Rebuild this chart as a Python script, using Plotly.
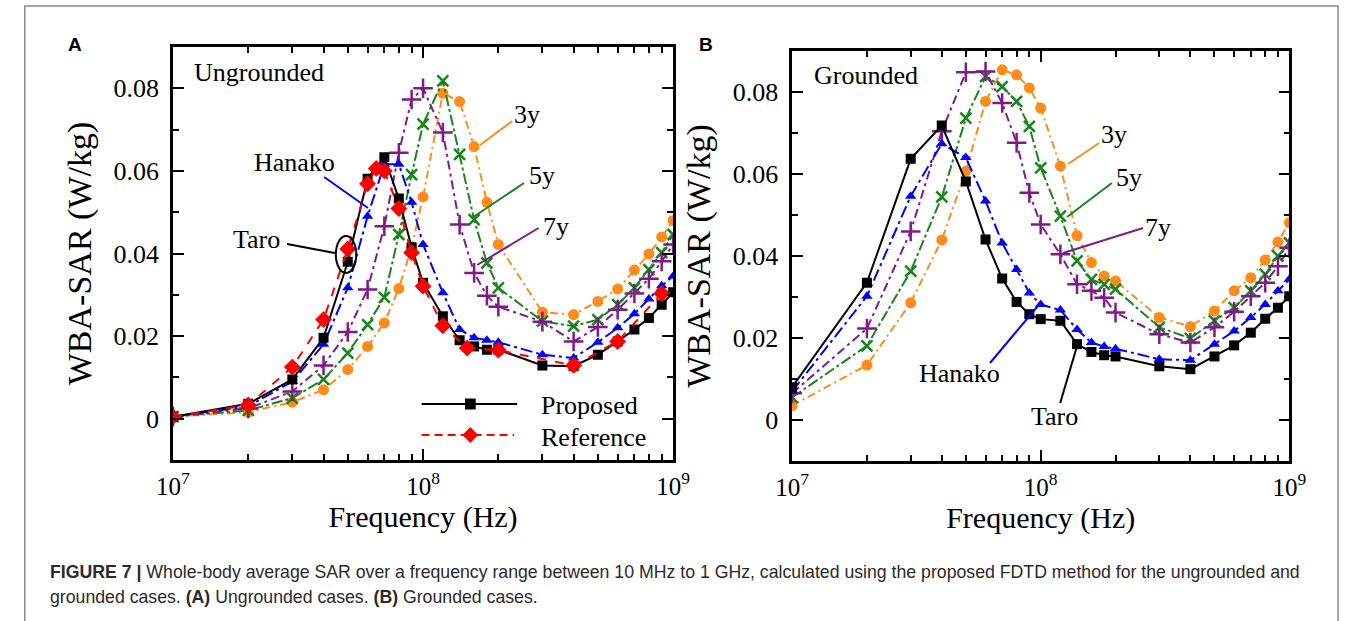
import plotly.graph_objects as go

# ---------------- data ----------------
freq_mhz = [10, 20, 30, 40, 50, 60, 70, 80, 90, 100, 120, 140, 160, 180, 200,
            300, 400, 500, 600, 700, 800, 900, 1000]
ref_freq_mhz = [10, 20, 30, 40, 50, 60, 65, 70, 80, 90, 100, 120, 150, 200, 400, 600, 900]

# (A) Ungrounded
ung_taro = [0.0005, 0.0036, 0.0095, 0.0196, 0.038, 0.0581, 0.0633, 0.0533, 0.0415, 0.0329,
            0.0248, 0.019, 0.0175, 0.0167, 0.0167, 0.0129, 0.0127, 0.0155, 0.0187, 0.0216,
            0.0244, 0.0276, 0.0306]
ung_taro_ref = [0.0005, 0.0033, 0.0125, 0.024, 0.0411, 0.0569, 0.0606, 0.060, 0.0509, 0.0402,
                0.0321, 0.0225, 0.0171, 0.0166, 0.0129, 0.0187, 0.0303]
ung_hanako = [0.0005, 0.003, 0.009, 0.018, 0.0317, 0.049, 0.0616, 0.0616, 0.0524, 0.0422,
              0.0305, 0.0216, 0.0196, 0.019, 0.0185, 0.0155, 0.0147, 0.0185, 0.022, 0.0254,
              0.029, 0.0322, 0.0345]
ung_7y = [0.0005, 0.0025, 0.0066, 0.0129, 0.021, 0.0313, 0.0466, 0.0644, 0.0773, 0.080,
          0.0693, 0.047, 0.0353, 0.0298, 0.0271, 0.0235, 0.0187, 0.0222, 0.0264, 0.0303,
          0.0339, 0.0381, 0.0422]
ung_5y = [0.0005, 0.002, 0.005, 0.0095, 0.0159, 0.0228, 0.0294, 0.0446, 0.0591, 0.0713,
          0.0818, 0.064, 0.0482, 0.0377, 0.0317, 0.0236, 0.0224, 0.024, 0.0276, 0.0317,
          0.0361, 0.0402, 0.0446]
ung_3y = [0.0005, 0.0016, 0.004, 0.007, 0.0119, 0.0175, 0.0232, 0.0315, 0.0415, 0.0537,
          0.0788, 0.0768, 0.0659, 0.0524, 0.0422, 0.0258, 0.0252, 0.0284, 0.0314, 0.036,
          0.0399, 0.044, 0.048]

# (B) Grounded
gr_taro = [0.008, 0.0335, 0.0637, 0.0718, 0.0582, 0.044, 0.0345, 0.0288, 0.0258, 0.0246,
           0.0242, 0.0185, 0.0166, 0.0158, 0.0155, 0.0131, 0.0124, 0.0155, 0.0182, 0.0213,
           0.0247, 0.0274, 0.0302]
gr_hanako = [0.007, 0.0302, 0.0546, 0.0674, 0.064, 0.0534, 0.0432, 0.0367, 0.031, 0.0282,
             0.0268, 0.0221, 0.0189, 0.0179, 0.0174, 0.0148, 0.0146, 0.0185, 0.0217, 0.025,
             0.0282, 0.0315, 0.0343]
gr_7y = [0.0065, 0.0223, 0.046, 0.0704, 0.0848, 0.085, 0.0773, 0.0676, 0.0554, 0.0477,
         0.0404, 0.0331, 0.0315, 0.0298, 0.0262, 0.0209, 0.0189, 0.0226, 0.0264, 0.0302,
         0.0335, 0.0375, 0.042]
gr_5y = [0.0055, 0.0181, 0.0363, 0.0544, 0.0736, 0.0838, 0.0813, 0.0777, 0.0716, 0.0615,
         0.0497, 0.0388, 0.0343, 0.0331, 0.0319, 0.0226, 0.0199, 0.0242, 0.0274, 0.0315,
         0.0355, 0.04, 0.0432]
gr_3y = [0.0035, 0.0134, 0.0286, 0.0439, 0.0607, 0.0777, 0.0854, 0.0842, 0.081, 0.0761,
         0.0619, 0.045, 0.0384, 0.0351, 0.0339, 0.025, 0.0228, 0.0266, 0.0315, 0.0347,
         0.039, 0.0434, 0.0481]

x_tick_vals = [1e7, 1e8, 1e9]
x_tick_text = ["10<sup>7</sup>", "10<sup>8</sup>", "10<sup>9</sup>"]
x_minor_vals = [m * 10 ** e for e in (7, 8) for m in range(2, 10)]
y_tick_vals = [0, 0.02, 0.04, 0.06, 0.08]
y_tick_text = ["0", "0.02", "0.04", "0.06", "0.08"]

# ---------------- styling ----------------
W, H = 1357, 621
SERIF = "Liberation Serif"
C_BLACK, C_RED, C_BLUE = "#000000", "#FF0000", "#0000FF"
C_PURPLE, C_GREEN, C_ORANGE = "#80198C", "#17861A", "#FF8C1A"


def px(x):
    return x / W


def py(y):
    return 1 - y / H


freq = [f * 1e6 for f in freq_mhz]
ref_freq = [f * 1e6 for f in ref_freq_mhz]

fig = go.Figure()


def add_series(xs, ys, xa, ya, color, dash, symbol, size, name=None, mlw=0):
    marker = dict(symbol=symbol, size=size, color=color)
    if mlw:
        marker["line"] = dict(color=color, width=mlw)
    fig.add_trace(go.Scatter(
        x=xs, y=ys, xaxis=xa, yaxis=ya, mode="lines+markers", name=name,
        line=dict(color=color, width=2, dash=dash), marker=marker,
        showlegend=False))


DASH_BLUE = "12px,4px,3px,4px"
DASH_PURPLE = "9px,4px,3px,4px"
DASH_GREEN = "11px,3px,3px,3px"
DASH_ORANGE = "8px,4px,2px,4px"

for xa, ya, d3, d5, d7, dh, dt in (("x", "y", ung_3y, ung_5y, ung_7y, ung_hanako, ung_taro),
                                  ("x2", "y2", gr_3y, gr_5y, gr_7y, gr_hanako, gr_taro)):
    add_series(freq, d3, xa, ya, C_ORANGE, DASH_ORANGE, "circle", 11, name="3y")
    add_series(freq, d5, xa, ya, C_GREEN, DASH_GREEN, "x-thin", 11, name="5y", mlw=2.5)
    add_series(freq, d7, xa, ya, C_PURPLE, DASH_PURPLE, "cross-thin", 14, name="7y", mlw=2.5)
    add_series(freq, dh, xa, ya, C_BLUE, DASH_BLUE, "triangle-up", 10, name="Hanako")
    add_series(freq, dt, xa, ya, C_BLACK, "solid", "square", 10, name="Taro (Proposed)")
    if xa == "x":
        add_series(ref_freq, ung_taro_ref, xa, ya, C_RED, "dash", "diamond", 13,
                   name="Taro (Reference)")


def xaxis(domain, anchor):
    return dict(type="log", range=[7, 9], domain=domain, anchor=anchor,
                showline=True, linewidth=2.5, linecolor="black", mirror="ticks",
                ticks="inside", ticklen=11, tickwidth=2, tickcolor="black",
                tickmode="array", tickvals=x_tick_vals, ticktext=x_tick_text,
                tickfont=dict(family=SERIF, size=25, color="black"),
                ticklabelstandoff=2,
                minor=dict(ticks="inside", ticklen=6, tickwidth=2, tickcolor="black",
                           tickmode="array", tickvals=x_minor_vals, showgrid=False),
                showgrid=False, zeroline=False,
                title=dict(text="Frequency (Hz)", font=dict(family=SERIF, size=30, color="black"),
                           standoff=0))


def yaxis(domain, anchor):
    return dict(range=[-0.01, 0.09], domain=domain, anchor=anchor,
                showline=True, linewidth=2.5, linecolor="black", mirror="ticks",
                ticks="inside", ticklen=11, tickwidth=2, tickcolor="black",
                tickmode="array", tickvals=y_tick_vals, ticktext=y_tick_text,
                tickfont=dict(family=SERIF, size=26, color="black"),
                ticklabelstandoff=6,
                minor=dict(ticks="inside", ticklen=6, tickwidth=2, tickcolor="black",
                           tick0=0, dtick=0.01, showgrid=False),
                showgrid=False, zeroline=False,
                title=dict(text="WBA-SAR (W/kg)", font=dict(family=SERIF, size=34, color="black"),
                           standoff=12))


fig.update_layout(
    width=W, height=H, margin=dict(l=0, r=0, t=0, b=0),
    paper_bgcolor="white", plot_bgcolor="white",
    font=dict(family=SERIF, color="black"),
    showlegend=False,
    xaxis=xaxis([px(160), px(673)], "y"),
    yaxis=yaxis([py(460), py(47)], "x"),
    xaxis2=xaxis([px(795), px(1305)], "y2"),
    yaxis2=yaxis([py(461), py(51)], "x2"),
)

# ---------------- annotations ----------------
def text(x, y, s, size=26, xanchor="center", color="black", family=SERIF):
    fig.add_annotation(x=px(x), y=py(y), xref="paper", yref="paper", text=s,
                       showarrow=False, xanchor=xanchor, yanchor="middle",
                       font=dict(family=family, size=size, color=color))


def seg(x0, y0, x1, y1, color, dash="solid"):
    fig.add_shape(type="line", xref="paper", yref="paper",
                  x0=px(x0), y0=py(y0), x1=px(x1), y1=py(y1),
                  line=dict(color=color, width=2, dash=dash))


text(180, 73, "Ungrounded", xanchor="left")
text(285, 162, "Hanako")
text(246, 240, "Taro")
text(523, 115, "3y")
text(539, 176, "5y")
text(553, 226, "7y")
seg(315, 177, 360, 208, C_BLUE)
seg(277, 244, 326, 253, C_BLACK)
seg(508, 121, 475, 145, C_ORANGE)
seg(520, 183, 468, 217, C_GREEN)
seg(535, 228, 472, 265, C_PURPLE)
fig.add_shape(type="circle", xref="paper", yref="paper",
              x0=px(327), x1=px(348), y0=py(273), y1=py(236),
              line=dict(color="black", width=2))

# legend key (panel A)
seg(415, 404, 513, 404, C_BLACK)
fig.add_shape(type="rect", xref="paper", yref="paper",
              x0=px(459.5), x1=px(470.5), y0=py(409.5), y1=py(398.5),
              line=dict(color=C_BLACK, width=0), fillcolor=C_BLACK)
seg(415, 435, 510, 435, C_RED, dash="8px,5px")
fig.add_shape(type="path", xref="paper", yref="paper",
              path=f"M {px(465)} {py(427)} L {px(473)} {py(435)} L {px(465)} {py(443)} "
                   f"L {px(457)} {py(435)} Z",
              line=dict(color=C_RED, width=0), fillcolor=C_RED)
text(535, 405, "Proposed", xanchor="left")
text(535, 437, "Reference", xanchor="left")

text(815, 76, "Grounded", xanchor="left")
text(1125, 135, "3y")
text(1141, 178, "5y")
text(1170, 227, "7y")
text(967, 373, "Hanako")
text(1064, 416, "Taro")
seg(1110, 143, 1078, 164, C_ORANGE)
seg(1123, 183, 1077, 217, C_GREEN)
seg(1155, 228, 1073, 253, C_PURPLE)
seg(998, 363, 1048, 305, C_BLUE)
seg(1070, 403, 1087, 347, C_BLACK)

# panel letters
text(60, 45, "<b>A</b>", size=19, family="Liberation Sans")
text(707, 45, "<b>B</b>", size=19, family="Liberation Sans")

# caption
CAP = "Liberation Sans"
text(32, 572, "<b>FIGURE 7 |</b> Whole-body average SAR over a frequency range between 10 MHz to 1 GHz, "
     "calculated using the proposed FDTD method for the ungrounded and",
     size=17.7, xanchor="left", family=CAP, color="#2a2a2a")
text(32, 597, "grounded cases. <b>(A)</b> Ungrounded cases. <b>(B)</b> Grounded cases.",
     size=17.7, xanchor="left", family=CAP, color="#2a2a2a")

# outer frame
fig.add_shape(type="rect", xref="paper", yref="paper",
              x0=px(8), x1=px(1355), y0=py(640), y1=py(6),
              line=dict(color="#8a8a8a", width=1.5), layer="below")

fig.write_html("out.html")
